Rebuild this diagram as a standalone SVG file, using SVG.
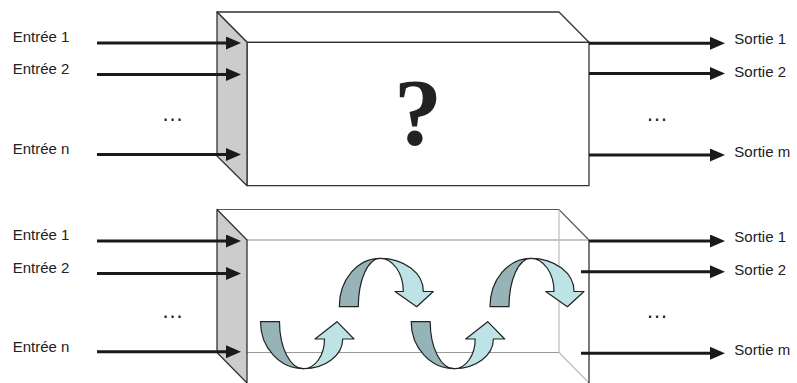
<svg xmlns="http://www.w3.org/2000/svg" width="797" height="383" viewBox="0 0 797 383">
<style>
.lbl{font-family:"Liberation Sans",Arial,sans-serif;font-size:15px;fill:#222}
.dots{font-family:"Liberation Sans",Arial,sans-serif;font-size:22px;fill:#222;text-anchor:middle}
.conn{stroke:#1a1a1a;stroke-width:3;fill:none;marker-end:url(#ah)}
.panel{fill:#cccccc;stroke:#333;stroke-width:1.3;stroke-linejoin:round}
.face{fill:#fff;stroke:#333;stroke-width:1.3;stroke-linejoin:round}
.dk{fill:#96b4b7;stroke:#222;stroke-width:1.2;stroke-linejoin:round}
.lt{fill:#bee3e6;stroke:#222;stroke-width:1.2;stroke-linejoin:round}
</style>
<defs>
<marker id="ah" markerUnits="userSpaceOnUse" markerWidth="16" markerHeight="14" refX="4" refY="6.5" orient="auto">
<path d="M0,0 L15,6.5 L0,13 Z" fill="#1a1a1a"/>
</marker>
<g id="uArrow">
<path class="dk" d="M260.5,321.7 L279.5,321.7 A24,47 0 0 0 303.5,368.7 A43,47 0 0 1 260.5,321.7 Z"/>
<path class="lt" d="M303.5,368.7 A39.2,29.7 0 0 0 342.7,339 L354,339 L337,321.7 L315,339 L324.5,339 A21,29.7 0 0 1 303.5,368.7 Z"/>
</g>
<g id="nArrow">
<path class="dk" d="M339.3,306.7 L358.3,306.7 A21.7,48.4 0 0 1 380,258.3 A40.7,48.4 0 0 0 339.3,306.7 Z"/>
<path class="lt" d="M380,258.3 A43.3,32.7 0 0 1 423.3,291.5 L433.3,291.5 L416.7,306.7 L395,291.5 L403.3,291.5 A23.3,33.2 0 0 0 380,258.3 Z"/>
</g>
</defs>
<rect width="797" height="383" fill="#fff"/>

<!-- top box -->
<g id="box-top">
<polygon class="face" points="217,12 559,12 589,42.3 247,42.3"/>
<rect class="face" x="247" y="42.3" width="342" height="143.4"/>
<polygon class="panel" points="217,12 247,42.3 247,185.7 217,156"/>
<text x="418" y="145" font-family="'Liberation Serif','Times New Roman',serif" font-weight="bold" font-size="96" text-anchor="middle" fill="#222">?</text>
</g>

<!-- bottom box -->
<g id="box-bottom">
<polygon points="217,209.5 559,209.5 589,240 247,240" fill="#fff" stroke="none"/>
<polyline points="217,209.5 559,209.5 589,240" fill="none" stroke="#555" stroke-width="1.2"/>
<line x1="247" y1="240" x2="589" y2="240" stroke="#888" stroke-width="1.2"/>
<line x1="559" y1="209.5" x2="559" y2="352.5" stroke="#bbb" stroke-width="1.2"/>
<line x1="247" y1="352.5" x2="559" y2="352.5" stroke="#999" stroke-width="1.2"/>
<line x1="559" y1="352.5" x2="589" y2="383" stroke="#bbb" stroke-width="1.2"/>
<line x1="589" y1="240" x2="589" y2="383" stroke="#333" stroke-width="1.3"/>
<polygon class="panel" points="217,209.5 247,240 247,383 217,352.5"/>
</g>

<g id="loop-1"><use href="#uArrow"/></g>
<g id="loop-2"><use href="#nArrow"/></g>
<g id="loop-3"><use href="#uArrow" transform="translate(150.7,0)"/></g>
<g id="loop-4"><use href="#nArrow" transform="translate(150.7,0)"/></g>

<g id="connectors">
<path class="conn" d="M97,43 H230"/>
<path class="conn" d="M97,74.5 H230"/>
<path class="conn" d="M97,154.5 H230"/>
<path class="conn" d="M589,43.3 H714"/>
<path class="conn" d="M589,73.5 H714"/>
<path class="conn" d="M589,155 H714"/>
<path class="conn" d="M97,241 H230"/>
<path class="conn" d="M97,273.5 H230"/>
<path class="conn" d="M97,351.7 H230"/>
<path class="conn" d="M589,241 H714"/>
<path class="conn" d="M581,271.7 H714"/>
<path class="conn" d="M581,353.3 H714"/>
</g>

<g id="labels-top">
<text class="lbl" x="12.7" y="42">Entrée 1</text>
<text class="lbl" x="12.7" y="74">Entrée 2</text>
<text class="lbl" x="12.7" y="154">Entrée n</text>
<text class="lbl" x="734.3" y="43.5">Sortie 1</text>
<text class="lbl" x="734.3" y="77">Sortie 2</text>
<text class="lbl" x="734.3" y="156.5">Sortie m</text>
<text class="dots" x="172.5" y="120.5">…</text>
<text class="dots" x="657" y="120.5">…</text>
</g>
<g id="labels-bottom">
<text class="lbl" x="12.7" y="240">Entrée 1</text>
<text class="lbl" x="12.7" y="273">Entrée 2</text>
<text class="lbl" x="12.7" y="351.5">Entrée n</text>
<text class="lbl" x="734.3" y="241.5">Sortie 1</text>
<text class="lbl" x="734.3" y="275">Sortie 2</text>
<text class="lbl" x="734.3" y="355">Sortie m</text>
<text class="dots" x="172.5" y="318">…</text>
<text class="dots" x="657" y="318">…</text>
</g>
</svg>
